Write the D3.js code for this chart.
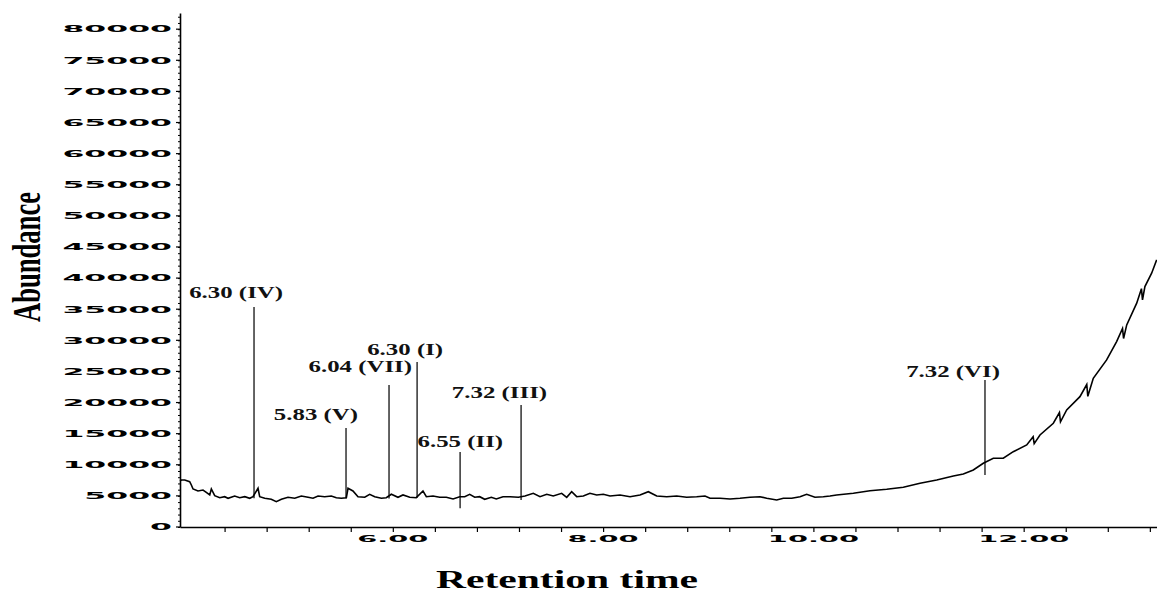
<!DOCTYPE html>
<html>
<head>
<meta charset="utf-8">
<script src="https://cdn.jsdelivr.net/npm/d3@7"></script>
<style>
  body { margin: 0; background: #fff; }
  svg { display: block; }
</style>
</head>
<body>
<div class="chart"></div>
<script>
// chromatogram trace (time in min, abundance)
var times = [3.976, 3.989, 4.021, 4.068, 4.084, 4.100, 4.147, 4.195, 4.226, 4.259, 4.274, 4.306,
  4.354, 4.401, 4.433, 4.496, 4.544, 4.592, 4.639, 4.670, 4.718, 4.734, 4.782, 4.844, 4.892,
  4.940, 5.003, 5.067, 5.130, 5.194, 5.241, 5.289, 5.352, 5.415, 5.463, 5.510, 5.558, 5.574,
  5.621, 5.669, 5.733, 5.780, 5.828, 5.891, 5.938, 5.986, 6.049, 6.097, 6.161, 6.223, 6.287,
  6.319, 6.382, 6.446, 6.509, 6.573, 6.636, 6.684, 6.731, 6.779, 6.826, 6.874, 6.937, 6.984,
  7.048, 7.115, 7.194, 7.257, 7.336, 7.400, 7.464, 7.526, 7.606, 7.654, 7.701, 7.749, 7.812,
  7.875, 7.939, 8.002, 8.066, 8.161, 8.256, 8.351, 8.430, 8.510, 8.605, 8.700, 8.795, 8.890,
  8.969, 9.017, 9.112, 9.207, 9.302, 9.397, 9.492, 9.556, 9.651, 9.714, 9.794, 9.873, 9.936,
  10.015, 10.094, 10.158, 10.221, 10.380, 10.538, 10.697, 10.855, 11.014, 11.173, 11.331,
  11.426, 11.521, 11.616, 11.711, 11.806, 11.901, 12.029, 12.090, 12.100, 12.155, 12.282,
  12.340, 12.350, 12.409, 12.535, 12.600, 12.610, 12.662, 12.789, 12.884, 12.940, 12.950,
  12.980, 13.075, 13.120, 13.130, 13.153, 13.217, 13.265];
var abundance = [7400, 7556, 7556, 7283, 6752, 6109, 5788, 5948, 5579, 5145, 6109, 5032,
  4711, 4871, 4614, 4984, 4711, 4871, 4614, 4871, 6222, 4871, 4614, 4453, 4067,
  4453, 4775, 4614, 4984, 4775, 4614, 4984, 4871, 4984, 4711, 4614, 4711, 6222,
  5788, 4871, 4775, 5257, 4871, 4614, 4711, 5257, 4775, 5145, 4775, 4711, 5788,
  4871, 4984, 4775, 4775, 4502, 4871, 4871, 5257, 4775, 4871, 4453, 4775, 4502,
  4871, 4871, 4775, 4984, 5418, 4871, 5257, 4984, 5418, 4775, 5675, 4871, 4984,
  5418, 5145, 5257, 4984, 5145, 4871, 5145, 5675, 4984, 4871, 4984, 4775, 4871,
  4984, 4614, 4614, 4502, 4614, 4775, 4871, 4614, 4341, 4614, 4614, 4871, 5257,
  4775, 4871, 4984, 5145, 5418, 5836, 6061, 6383, 7026, 7556, 8199,
  8521, 9164, 10241, 11045, 11045, 12106, 13183, 14500, 13400, 14791, 16672,
  18400, 16900, 18810, 20948, 22900, 21000, 23906, 26849, 29791, 31900, 30300,
  32476, 35964, 38300, 36500, 38633, 40787, 42926];

// labelled peaks
var peakTimes = [4.680, 5.555, 5.964, 6.231, 6.640, 7.220, 11.632];
var peakTop = [35370, 15900, 22830, 26530, 12060, 19600, 23640];
var peakBase = [4610, 4610, 4600, 4700, 3000, 4340, 8360];
var peakLabels = ["6.30 (IV)", "5.83 (V)", "6.04 (VII)", "6.30 (I)", "6.55 (II)", "7.32 (III)", "7.32 (VI)"];

// axis ticks
var yTicks = d3.range(0, 80001, 5000);
var xLabelTicks = [6, 8, 10, 12];

// label placement (px from the peak line top)
var labelDx = [29, 12, 23, 26, 43, 26, 15];
var labelDy = [9, 8, 13, 7, 5, 7, 3];

var fullWidth = 1157;
var fullHeight = 594;
var plotLeft = 180, plotRight = 1157, plotTop = 13, plotBottom = 527;

var svg = d3.select('.chart').append('svg')
  .attr('width', fullWidth)
  .attr('height', fullHeight);

var xScale = d3.scaleLinear()
  .domain([3.976, 13.268])
  .range([plotLeft, plotRight]);

var yScale = d3.scaleLinear()
  .domain([0, 82600])
  .range([plotBottom, plotTop]);

// y axis: line, minor ticks every 1000, major every 5000
var yAxis = d3.axisLeft(yScale)
  .tickValues(d3.range(0, 82001, 1000))
  .tickSize(2)
  .tickSizeOuter(0)
  .tickFormat('');
var yAxisEle = svg.append('g')
  .classed('y axis', true)
  .attr('transform', 'translate(' + plotLeft + ',0)')
  .call(yAxis);
yAxisEle.select('.domain').attr('stroke', '#000').attr('stroke-width', 1.6);
yAxisEle.selectAll('.tick line').attr('stroke', '#000').attr('stroke-width', 1);

svg.append('g')
  .classed('y major', true)
  .selectAll('line')
  .data(yTicks)
  .enter().append('line')
    .attr('x1', plotLeft - 4)
    .attr('x2', plotLeft)
    .attr('y1', function(d) { return yScale(d); })
    .attr('y2', function(d) { return yScale(d); })
    .attr('stroke', '#000')
    .attr('stroke-width', 1.2);

svg.append('g')
  .classed('y labels', true)
  .selectAll('g')
  .data(yTicks)
  .enter().append('g')
    .attr('transform', function(d) {
      return 'translate(172,' + (yScale(d) + 3.3) + ') scale(3.5,1)';
    })
  .append('text')
    .attr('text-anchor', 'end')
    .attr('font-family', 'DejaVu Sans, sans-serif')
    .attr('font-weight', 'bold')
    .attr('font-size', 9)
    .attr('fill', '#000')
    .text(function(d) { return d; });

// x axis
var xAxis = d3.axisBottom(xScale)
  .tickValues(d3.range(4.4, 13.21, 0.4))
  .tickSize(5)
  .tickSizeOuter(0)
  .tickFormat('');
var xAxisEle = svg.append('g')
  .classed('x axis', true)
  .attr('transform', 'translate(0,' + plotBottom + ')')
  .call(xAxis);
xAxisEle.select('.domain').attr('stroke', '#000').attr('stroke-width', 1.6);
xAxisEle.selectAll('.tick line').attr('stroke', '#000').attr('stroke-width', 1.2);

svg.append('g')
  .classed('x labels', true)
  .selectAll('g')
  .data(xLabelTicks)
  .enter().append('g')
    .attr('transform', function(d) {
      return 'translate(' + xScale(d) + ',542) scale(3.2,1)';
    })
  .append('text')
    .attr('text-anchor', 'middle')
    .attr('font-family', 'DejaVu Sans, sans-serif')
    .attr('font-weight', 'bold')
    .attr('font-size', 9)
    .attr('fill', '#000')
    .text(function(d) { return d.toFixed(2); });

// axis titles
svg.append('g')
  .attr('transform', 'translate(567,588) scale(1.6,1)')
  .append('text')
    .attr('text-anchor', 'middle')
    .attr('font-family', 'Liberation Serif, Times New Roman, serif')
    .attr('font-weight', 'bold')
    .attr('font-size', 26)
    .text('Retention time');

svg.append('g')
  .attr('transform', 'translate(40,257) scale(1.5,1) rotate(-90)')
  .append('text')
    .attr('text-anchor', 'middle')
    .attr('font-family', 'Liberation Serif, Times New Roman, serif')
    .attr('font-weight', 'bold')
    .attr('font-size', 26.6)
    .text('Abundance');

// peak marker lines
var peaks = peakTimes.map(function(t, i) {
  return { t: t, top: peakTop[i], base: peakBase[i], label: peakLabels[i], dx: labelDx[i], dy: labelDy[i] };
});

svg.append('g')
  .classed('peaks', true)
  .selectAll('line')
  .data(peaks)
  .enter().append('line')
    .attr('x1', function(d) { return xScale(d.t); })
    .attr('x2', function(d) { return xScale(d.t); })
    .attr('y1', function(d) { return yScale(d.top); })
    .attr('y2', function(d) { return yScale(d.base); })
    .attr('stroke', '#222')
    .attr('stroke-width', 1.4);

// trace
var line = d3.line()
  .x(function(d) { return xScale(d[0]); })
  .y(function(d) { return yScale(d[1]); });

svg.append('path')
  .datum(times.map(function(t, i) { return [t, abundance[i]]; }))
  .attr('fill', 'none')
  .attr('stroke', '#000')
  .attr('stroke-width', 1.6)
  .attr('stroke-linejoin', 'miter')
  .attr('d', line);

// peak labels
svg.append('g')
  .classed('peak-labels', true)
  .selectAll('g')
  .data(peaks)
  .enter().append('g')
    .attr('transform', function(d) {
      return 'translate(' + (xScale(d.t) + d.dx) + ',' + (yScale(d.top) - d.dy) + ') scale(1.42,1)';
    })
  .append('text')
    .attr('text-anchor', 'end')
    .attr('font-family', 'Liberation Serif, Times New Roman, serif')
    .attr('font-weight', 'bold')
    .attr('font-size', 17.5)
    .attr('fill', '#111')
    .text(function(d) { return d.label; });
</script>
</body>
</html>
